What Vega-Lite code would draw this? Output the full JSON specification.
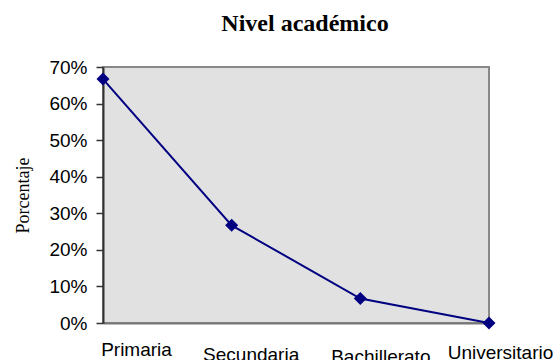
{
  "$schema": "https://vega.github.io/schema/vega-lite/v6.json",
  "width": 386,
  "height": 256,
  "autosize": "none",
  "padding": {"left": 103, "top": 67, "right": 67, "bottom": 37},
  "background": "white",
  "title": {
    "text": "Nivel académico",
    "font": "Liberation Serif",
    "fontSize": 24,
    "fontWeight": "bold",
    "color": "black",
    "anchor": "middle",
    "dx": 9,
    "offset": 22
  },
  "config": {
    "view": {"fill": "#e1e1e1", "stroke": "#888888", "strokeWidth": 2},
    "axis": {"grid": false}
  },
  "data": {
    "values": [
      {"nivel": "Primaria", "pct": 0.667},
      {"nivel": "Secundaria", "pct": 0.267},
      {"nivel": "Bachillerato", "pct": 0.067},
      {"nivel": "Universitario", "pct": 0.0}
    ]
  },
  "encoding": {
    "x": {
      "field": "nivel",
      "type": "ordinal",
      "sort": null,
      "scale": {"type": "point", "padding": 0},
      "axis": {
        "title": null,
        "labelAngle": 0,
        "labelFont": "Liberation Sans",
        "labelFontSize": 19,
        "labelColor": "black",
        "labelOffset": {
          "condition": [
            {"test": "datum.value === 'Primaria'", "value": 33},
            {"test": "datum.value === 'Secundaria'", "value": 19},
            {"test": "datum.value === 'Bachillerato'", "value": 20}
          ],
          "value": 11
        },
        "labelPadding": {
          "condition": [
            {"test": "datum.value === 'Secundaria'", "value": 22},
            {"test": "datum.value === 'Bachillerato'", "value": 24},
            {"test": "datum.value === 'Universitario'", "value": 20}
          ],
          "value": 17
        },
        "ticks": false,
        "domainColor": "#777777",
        "domainWidth": 2,
        "labelOverlap": false,
        "labelBound": false,
        "labelFlush": false
      }
    },
    "y": {
      "field": "pct",
      "type": "quantitative",
      "scale": {"domain": [0, 0.7], "nice": false},
      "axis": {
        "title": "Porcentaje",
        "titleFont": "Liberation Serif",
        "titleFontSize": 18,
        "titleFontWeight": "normal",
        "titleColor": "black",
        "titlePadding": 16,
        "values": [0, 0.1, 0.2, 0.3, 0.4, 0.5, 0.6, 0.7],
        "format": ".0%",
        "labelFont": "Liberation Sans",
        "labelFontSize": 19,
        "labelColor": "black",
        "labelPadding": 9,
        "tickSize": 7,
        "tickWidth": 1.5,
        "tickColor": "#333333",
        "domainColor": "#333333",
        "domainWidth": 2
      }
    }
  },
  "layer": [
    {"mark": {"type": "line", "color": "#000080", "strokeWidth": 2}},
    {"mark": {"type": "point", "shape": "diamond", "filled": true, "color": "#000080", "size": 170, "opacity": 1}}
  ]
}
